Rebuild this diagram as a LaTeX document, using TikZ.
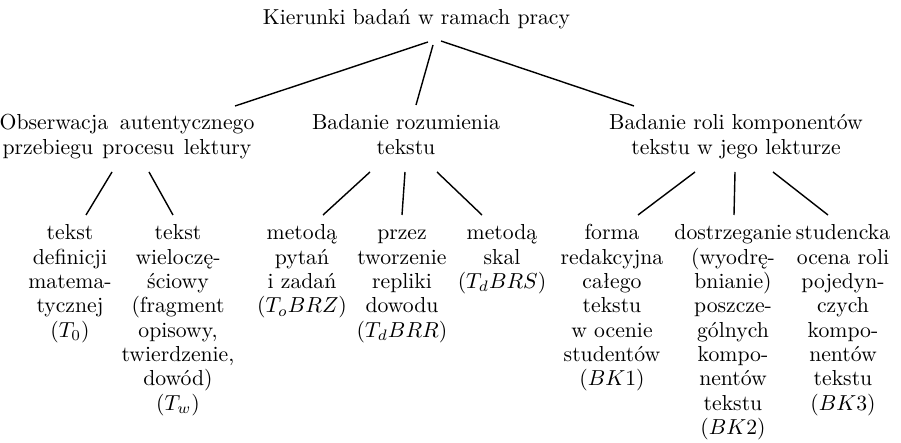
\documentclass[tikz,border=0pt]{standalone}
\usepackage{fontspec}

% centred multi-line label whose baseline is that of its first line
\newcommand\stack[1]{{\fontsize{10}{11.2}\selectfont\setlength\tabcolsep{0pt}%
  \begin{tabular}[t]{c}#1\end{tabular}}}

\begin{document}
\begin{tikzpicture}[x=0.4608pt,y=-0.4608pt,
  lbl/.style={inner sep=0pt,anchor=base},
  edge/.style={line width=0.65pt}]
\useasboundingbox (0,0) rectangle (901,443);

% root
\node[lbl] (T) at (416.5,25) {\stack{Kierunki badań w ramach pracy}};

% first level
\node[lbl] (A) at (127,130) {\stack{Obserwacja\hspace{2pt} autentycznego\\przebiegu\hspace{1pt} procesu\hspace{1pt} lektury}};
\node[lbl] (B) at (406,130) {\stack{Badanie rozumienia\\tekstu}};
\node[lbl] (C) at (736,130) {\stack{Badanie roli komponentów\\tekstu w jego lekturze}};

% leaves
\node[lbl] (a1) at (70,240)  {\stack{tekst\\definicji\\matema-\\tycznej\\$(T_0)$}};
\node[lbl] (a2) at (178,240) {\stack{tekst\\wieloczę-\\ściowy\\(fragment\\opisowy,\\twierdzenie,\\dowód)\\$(T_w)$}};
\node[lbl] (b1) at (302,240) {\stack{metodą\\pytań\\i zadań\\$(T_oBRZ)$}};
\node[lbl] (b2) at (402,240) {\stack{przez\\tworzenie\\repliki\\dowodu\\$(T_dBRR)$}};
\node[lbl] (b3) at (502,240) {\stack{metodą\\skal\\$(T_dBRS)$}};
\node[lbl] (c1) at (612,240) {\stack{forma\\redakcyjna\\całego\\tekstu\\w ocenie\\studentów\\$(BK1)$}};
\node[lbl] (c2) at (733,240) {\stack{dostrzeganie\\(wyodrę-\\bnianie)\\poszcze-\\gólnych\\kompo-\\nentów\\tekstu\\$(BK2)$}};
\node[lbl] (c3) at (843,240) {\stack{studencka\\ocena roli\\pojedyn-\\czych\\kompo-\\nentów\\tekstu\\$(BK3)$}};

% root to first level
\draw[edge] ([shift={(11.5,17)}]T.base) -- ([shift={(108,-24)}]A.base);
\draw[edge] ([shift={(16.5,20)}]T.base) -- ([shift={(10,-25)}]B.base);
\draw[edge] ([shift={(24.5,16)}]T.base) -- ([shift={(-102,-24)}]C.base);

% first level to leaves
\draw[edge] ([shift={(-15,42)}]A.base) -- ([shift={(16,-25)}]a1.base);
\draw[edge] ([shift={(22,42)}]A.base)  -- ([shift={(-5,-25)}]a2.base);
\draw[edge] ([shift={(-36,42)}]B.base) -- ([shift={(21,-25)}]b1.base);
\draw[edge] ([shift={(-1,42)}]B.base)  -- ([shift={(0,-25)}]b2.base);
\draw[edge] ([shift={(31,42)}]B.base)  -- ([shift={(-20,-25)}]b3.base);
\draw[edge] ([shift={(-41,42)}]C.base) -- ([shift={(26,-25)}]c1.base);
\draw[edge] ([shift={(-1,42)}]C.base)  -- ([shift={(1,-25)}]c2.base);
\draw[edge] ([shift={(37,42)}]C.base)  -- ([shift={(-15,-25)}]c3.base);
\end{tikzpicture}
\end{document}
